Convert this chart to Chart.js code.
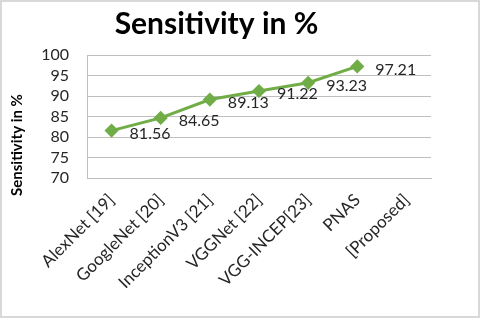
<!DOCTYPE html>
<html>
<head>
<meta charset="utf-8">
<script src="https://cdn.jsdelivr.net/npm/chart.js@4"></script>
<style>
  html, body { margin: 0; padding: 0; background: #fff; }
  #wrap { position: relative; width: 476px; height: 314px; border: 2px solid #d9d9d9; }
</style>
</head>
<body>
<div id="wrap"><canvas id="sensChart" width="476" height="314"></canvas></div>
<script>
const models = ['AlexNet [19]', 'GoogleNet [20]', 'InceptionV3 [21]', 'VGGNet [22]', 'VGG-INCEP[23]', 'PNAS', '[Proposed]'];
const sensitivity = [81.56, 84.65, 89.13, 91.22, 93.23, 97.21, null];
const yTicks = [70, 75, 80, 85, 90, 95, 100];
const yTitle = 'Sensitivity in %';

const FONT = "Lato, 'Open Sans', sans-serif";

// value labels right of each point, like Excel's data labels
const valueLabels = {
    id: 'valueLabels',
    afterDatasetsDraw(chart) {
        const c = chart.ctx;
        const meta = chart.getDatasetMeta(0);
        c.save();
        c.font = '16px ' + FONT;
        c.fillStyle = '#262626';
        c.textAlign = 'left';
        c.textBaseline = 'middle';
        meta.data.forEach((pt, i) => {
            const v = sensitivity[i];
            if (v == null) return;
            c.fillText(v.toFixed(2), pt.x + 18, pt.y + 3);
        });
        c.restore();
    }
};

// y axis title, Excel puts it a bit lower than the plot centre
const sideTitle = {
    id: 'sideTitle',
    afterDraw(chart) {
        const c = chart.ctx;
        c.save();
        c.translate(15, 143);
        c.rotate(-Math.PI / 2);
        c.font = 'bold 15px ' + FONT;
        c.fillStyle = '#000';
        c.textAlign = 'center';
        c.textBaseline = 'middle';
        c.fillText(yTitle, 0, 0);
        c.restore();
    }
};

const ctx = document.getElementById('sensChart').getContext('2d');

const sensChart = new Chart(ctx, {
    type: 'line',
    data: {
        labels: models,
        datasets: [{
            label: 'Sensitivity',
            data: sensitivity,
            borderColor: '#70ad47',
            backgroundColor: '#70ad47',
            borderWidth: 3,
            pointStyle: 'rectRot',
            pointRadius: 5,
            pointHoverRadius: 5,
            tension: 0
        }]
    },
    options: {
        responsive: false,
        animation: false,
        layout: { padding: { left: 0, right: 47, top: 0, bottom: 0 } },
        plugins: {
            legend: { display: false },
            tooltip: { enabled: false },
            title: {
                display: true,
                text: 'Sensitivity in %',
                color: '#000',
                font: { family: FONT, size: 30, weight: 'bold', lineHeight: 1.2 },
                padding: { top: 4, bottom: 13 }
            }
        },
        scales: {
            y: {
                min: 70,
                max: 100,
                afterBuildTicks: axis => { axis.ticks = yTicks.map(v => ({ value: v })); },
                afterFit: axis => { axis.width = 85; },
                grid: { color: '#bfbfbf', lineWidth: 1, drawTicks: false },
                border: { display: true, color: '#bfbfbf' },
                ticks: { color: '#262626', padding: 18, autoSkip: false, font: { family: FONT, size: 16 } }
            },
            x: {
                offset: true,
                afterFit: axis => { axis.height = 138; },
                grid: { display: false, drawTicks: false },
                border: { display: true, color: '#bfbfbf' },
                ticks: {
                    color: '#262626',
                    minRotation: 45,
                    maxRotation: 45,
                    padding: 12,
                    autoSkip: false,
                    font: { family: FONT, size: 17 }
                }
            }
        }
    },
    plugins: [valueLabels, sideTitle]
});
</script>
</body>
</html>
